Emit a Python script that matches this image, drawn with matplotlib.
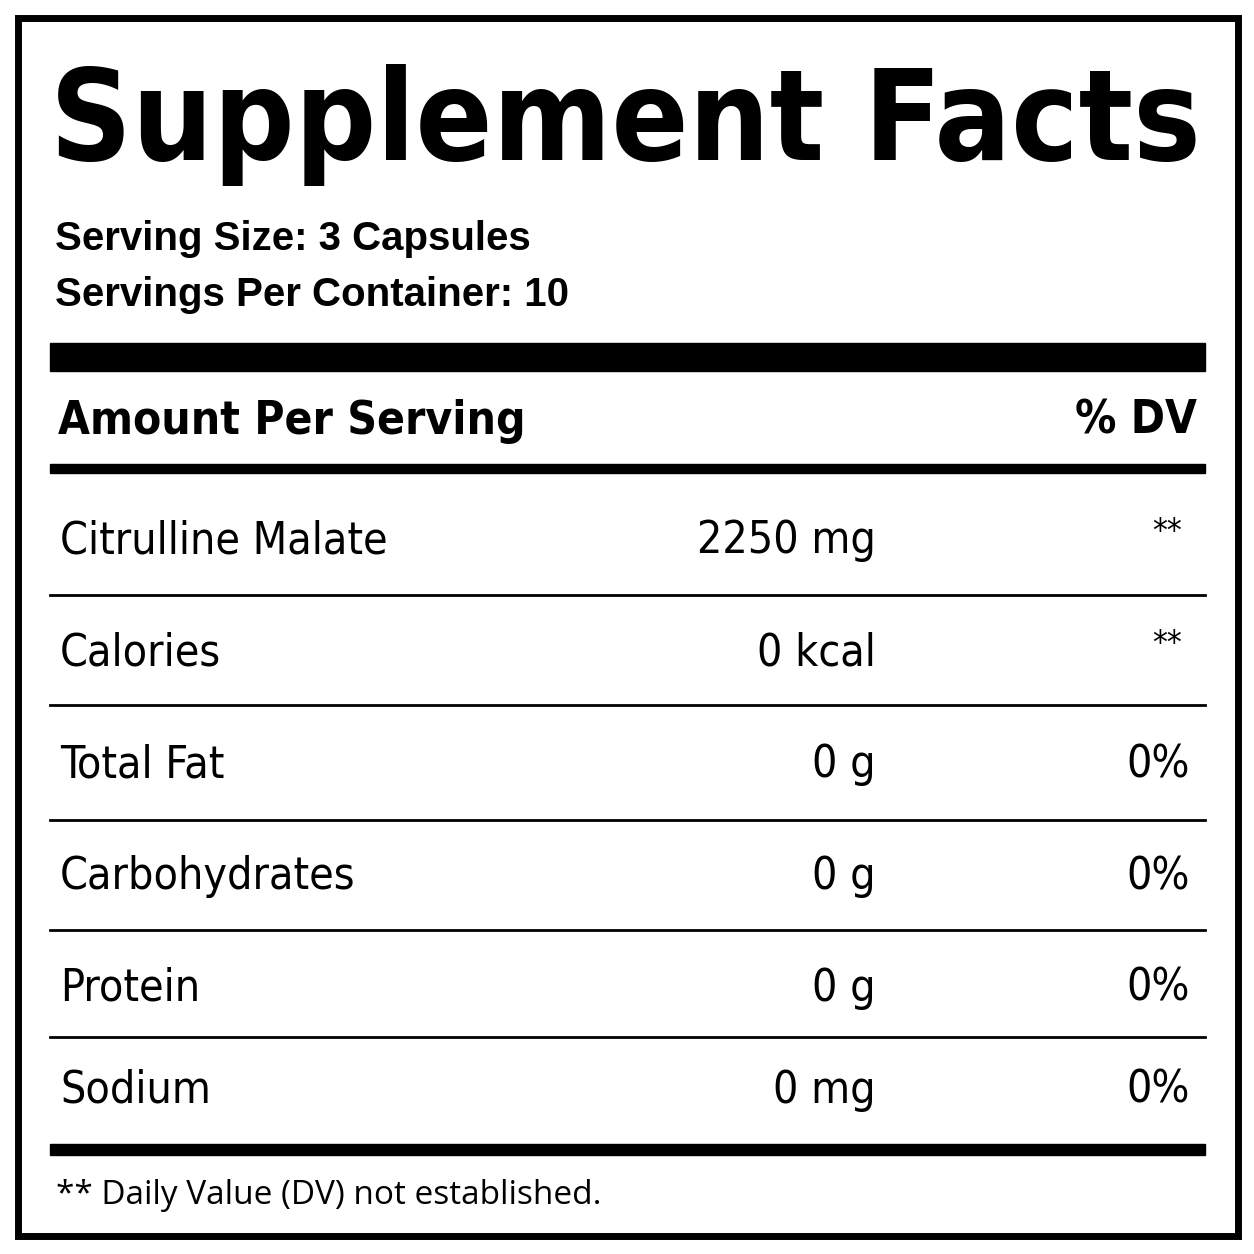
import matplotlib.pyplot as plt
from matplotlib.patches import Rectangle

nutrients = ["Citrulline Malate", "Calories", "Total Fat", "Carbohydrates", "Protein", "Sodium"]
amounts = ["2250 mg", "0 kcal", "0 g", "0 g", "0 g", "0 mg"]
dvs = ["**", "**", "0%", "0%", "0%", "0%"]
row_y = [541, 653, 765, 877, 988, 1090]
sep_y = [595, 705, 820, 930, 1037]

FAM = ["DejaVu Sans"]

fig = plt.figure(figsize=(12.54, 12.54), dpi=100)
ax = fig.add_axes([0, 0, 1, 1])
ax.set_xlim(0, 1254)
ax.set_ylim(1254, 0)
ax.axis("off")

ax.add_patch(Rectangle((18, 18), 1220, 1218, fill=False, lw=5, ec="black"))

title = ax.text(50, 160, "Supplement Facts", fontsize=100, fontweight="bold",
                family=FAM, fontstretch="condensed", va="baseline", ha="left")
ax.text(55, 250, "Serving Size: 3 Capsules", fontsize=29, fontweight="bold",
        family=["Liberation Sans"], va="baseline")
ax.text(55, 306, "Servings Per Container: 10", fontsize=29, fontweight="bold",
        family=["Liberation Sans"], va="baseline")

ax.add_patch(Rectangle((50, 343), 1155, 28, color="black"))
ax.text(58, 421, "Amount Per Serving", fontsize=33, fontweight="bold",
        family=FAM, fontstretch="condensed", va="center")
ax.text(1197, 421, "% DV", fontsize=33, fontweight="bold",
        family=FAM, fontstretch="condensed", va="center", ha="right")
ax.add_patch(Rectangle((50, 464), 1155, 9, color="black"))

for y in sep_y:
    ax.plot([50, 1205], [y, y], color="black", lw=2)

for name, amt, dv, y in zip(nutrients, amounts, dvs, row_y):
    ax.text(60, y, name, fontsize=32, family=FAM, fontstretch="condensed", va="center")
    ax.text(876, y, amt, fontsize=32, family=FAM, fontstretch="condensed",
            va="center", ha="right")
    if dv == "**":
        ax.text(1167, y - 8, dv, fontsize=24, family=FAM, fontstretch="condensed",
                va="center", ha="center")
    else:
        ax.text(1190, y, dv, fontsize=32, family=FAM, fontstretch="condensed",
                va="center", ha="right")

ax.add_patch(Rectangle((50, 1144), 1155, 11, color="black"))
ax.text(56, 1196, "** Daily Value (DV) not established.", fontsize=24,
        family=["Open Sans", "DejaVu Sans"], va="center")

# shrink the title to fit the box width
fig.canvas.draw()
bb = title.get_window_extent()
if bb.width > 1150:
    title.set_fontsize(100 * 1150 / bb.width)

fig.savefig("out.png", dpi=100, facecolor="white")
